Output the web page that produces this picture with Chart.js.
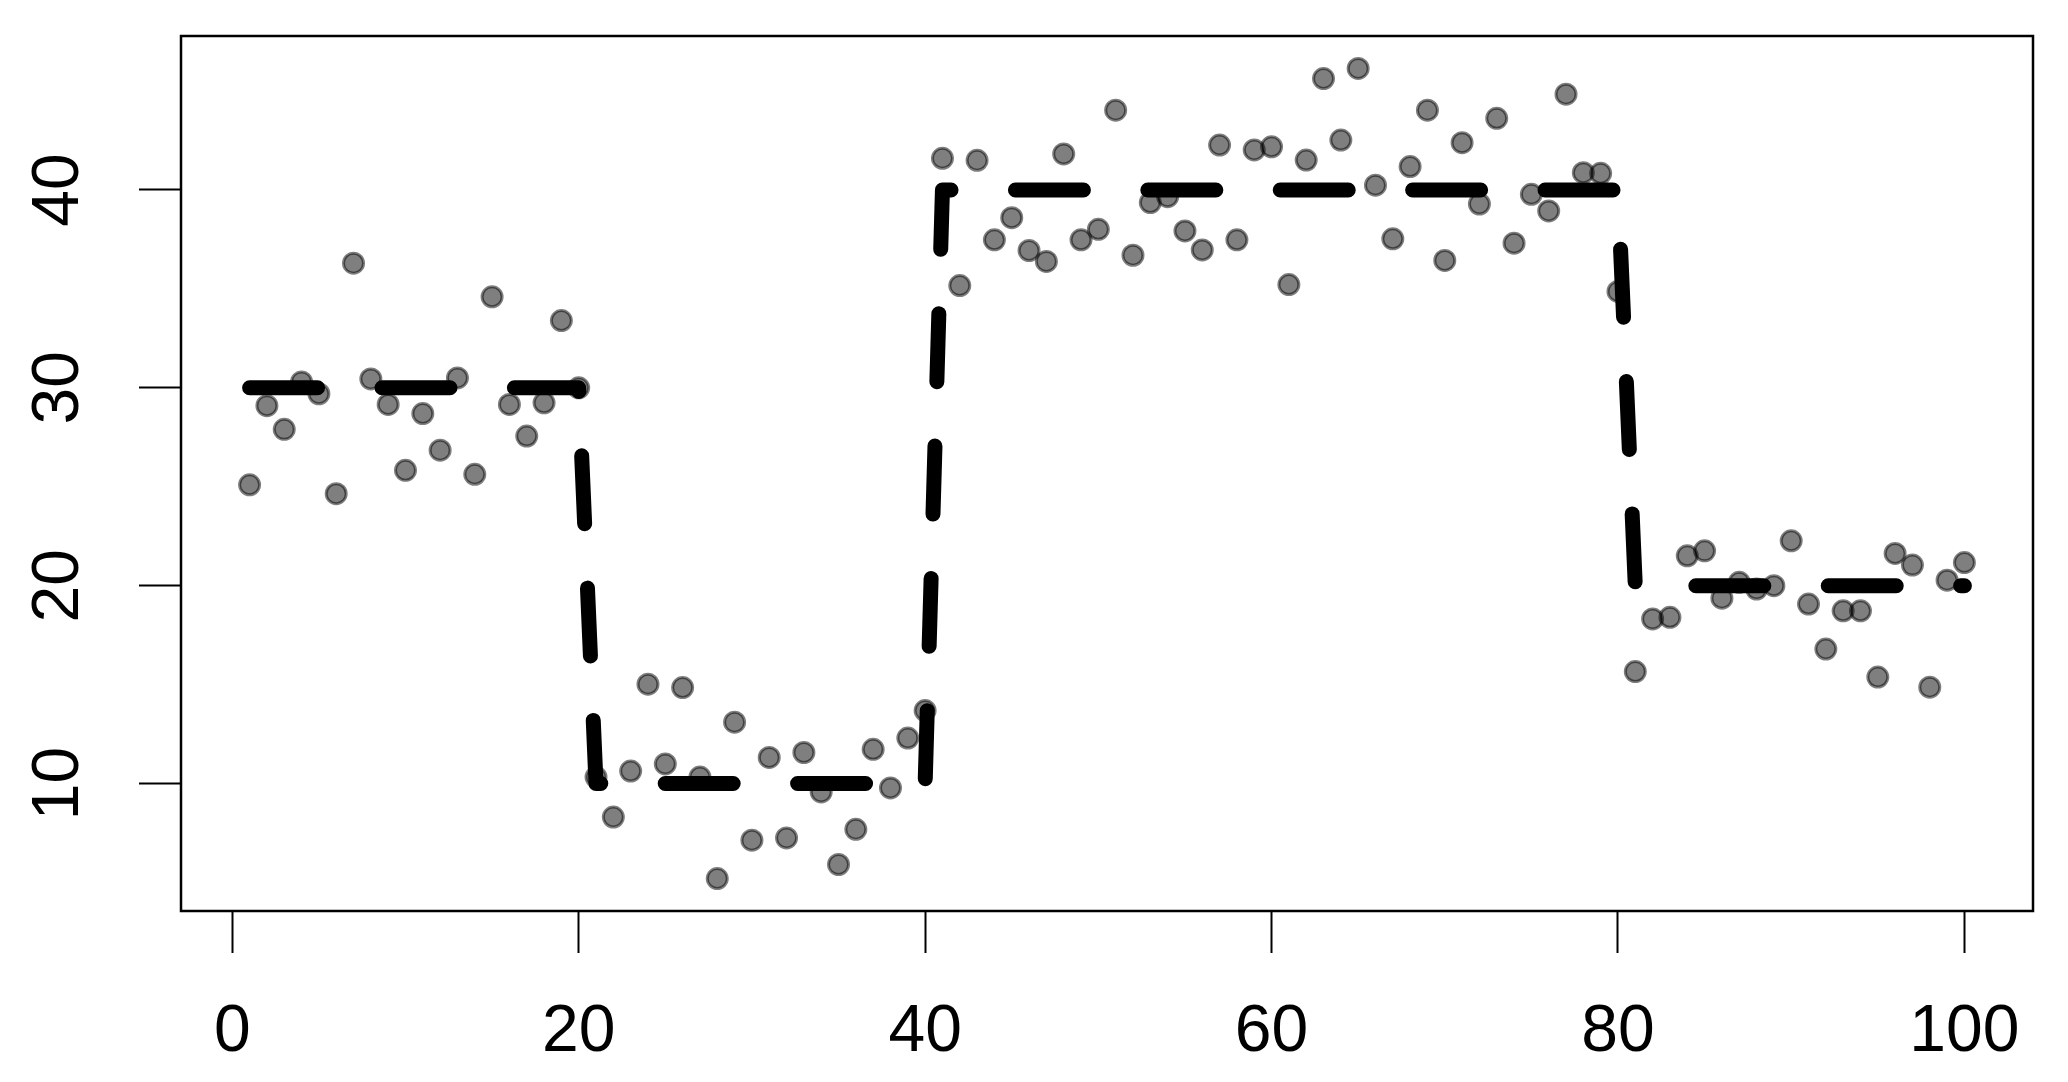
<!DOCTYPE html>
<html>
<head>
<meta charset="utf-8">
<script src="https://cdn.jsdelivr.net/npm/chart.js@4.4.1/dist/chart.umd.min.js"></script>
<style>
  html, body { margin: 0; padding: 0; background: #ffffff; }
  #wrap { width: 2068px; height: 1082px; position: relative; }
</style>
</head>
<body>
<div id="wrap"><canvas id="c"></canvas></div>
<script>
// ---- data ----
const index = [1,2,3,4,5,6,7,8,9,10,11,12,13,14,15,16,17,18,19,20,
  21,22,23,24,25,26,27,28,29,30,31,32,33,34,35,36,37,38,39,40,
  41,42,43,44,45,46,47,48,49,50,51,52,53,54,55,56,57,58,59,60,
  61,62,63,64,65,66,67,68,69,70,71,72,73,74,75,76,77,78,79,80,
  81,82,83,84,85,86,87,88,89,90,91,92,93,94,95,96,97,98,99,100];

const observed = [25.1,29.1,27.9,30.3,29.7,24.65,36.3,30.45,29.16,25.83,
  28.7,26.85,30.5,25.63,34.6,29.16,27.56,29.24,33.4,30.0,
  10.33,8.31,10.63,15.02,10.99,14.85,10.33,5.2,13.1,7.14,
  11.32,7.25,11.57,9.58,5.91,7.69,11.73,9.78,12.3,13.69,
  41.6,35.17,41.5,37.48,38.6,36.94,36.39,41.82,37.48,38.01,
  44.03,36.7,39.36,39.66,37.93,36.97,42.27,37.48,42.02,42.18,
  35.22,41.51,45.63,42.52,46.14,40.24,37.53,41.18,44.03,36.44,
  42.39,39.29,43.62,37.31,39.78,38.94,44.84,40.87,40.84,34.87,
  15.66,18.32,18.40,21.51,21.76,19.37,20.17,19.83,20.0,22.27,
  19.07,16.8,18.73,18.73,15.38,21.63,21.04,14.87,20.28,21.17];

const trueMean = [30,30,30,30,30,30,30,30,30,30,30,30,30,30,30,30,30,30,30,30,
  10,10,10,10,10,10,10,10,10,10,10,10,10,10,10,10,10,10,10,10,
  40,40,40,40,40,40,40,40,40,40,40,40,40,40,40,40,40,40,40,40,
  40,40,40,40,40,40,40,40,40,40,40,40,40,40,40,40,40,40,40,40,
  20,20,20,20,20,20,20,20,20,20,20,20,20,20,20,20,20,20,20,20];

const xTicks = [0, 20, 40, 60, 80, 100];
const yTicks = [10, 20, 30, 40];

// ---- chart ----
const ptsObserved = index.map((x, i) => ({x: x, y: observed[i]}));
const ptsMean = index.map((x, i) => ({x: x, y: trueMean[i]}));

const boxPlugin = {
  id: 'box',
  afterDraw(chart) {
    const a = chart.chartArea, ctx = chart.ctx;
    ctx.save();
    ctx.strokeStyle = '#000';
    ctx.lineWidth = 2.5;
    ctx.strokeRect(a.left, a.top, a.right - a.left, a.bottom - a.top);
    ctx.restore();
  }
};

const tickFont = {family: '"Liberation Sans", Arial, Helvetica, sans-serif', size: 66};

new Chart(document.getElementById('c'), {
  type: 'scatter',
  data: {
    datasets: [
      {
        type: 'line',
        label: 'true mean',
        data: ptsMean,
        order: 0,
        borderColor: '#000000',
        borderWidth: 15,
        borderDash: [68, 64.4],
        borderCapStyle: 'round',
        borderJoinStyle: 'round',
        pointRadius: 0,
        tension: 0,
        fill: false
      },
      {
        type: 'scatter',
        label: 'observed',
        data: ptsObserved,
        order: 1,
        backgroundColor: 'rgba(0,0,0,0.5)',
        borderColor: 'rgba(0,0,0,0.5)',
        borderWidth: 3,
        pointRadius: 10,
        pointHoverRadius: 10
      }
    ]
  },
  options: {
    responsive: true,
    maintainAspectRatio: false,
    animation: false,
    devicePixelRatio: 1,
    layout: { padding: { top: 36, right: 35, left: 0, bottom: 0 } },
    plugins: { legend: { display: false }, tooltip: { enabled: false } },
    scales: {
      x: {
        type: 'linear',
        min: -2.96,
        max: 103.96,
        afterBuildTicks: (s) => { s.ticks = xTicks.map(v => ({value: v})); },
        afterFit: (s) => { s.height = 171; s.paddingLeft = 0; s.paddingRight = 0; s.paddingTop = 0; s.paddingBottom = 0; },
        border: { display: false },
        grid: { display: true, drawOnChartArea: false, drawTicks: true, tickLength: 42, tickWidth: 2, tickColor: '#000' },
        ticks: { color: '#000', font: tickFont, padding: 40, maxRotation: 0, minRotation: 0, autoSkip: false }
      },
      y: {
        type: 'linear',
        min: 3.56,
        max: 47.78,
        afterBuildTicks: (s) => { s.ticks = yTicks.map(v => ({value: v})); },
        afterFit: (s) => { s.width = 181; s.paddingLeft = 0; s.paddingRight = 0; s.paddingTop = 0; s.paddingBottom = 0; },
        border: { display: false },
        grid: { display: true, drawOnChartArea: false, drawTicks: true, tickLength: 42, tickWidth: 2, tickColor: '#000' },
        ticks: { color: '#000', font: tickFont, padding: 42, minRotation: 90, maxRotation: 90, crossAlign: 'center', autoSkip: false }
      }
    }
  },
  plugins: [boxPlugin]
});
</script>
</body>
</html>
